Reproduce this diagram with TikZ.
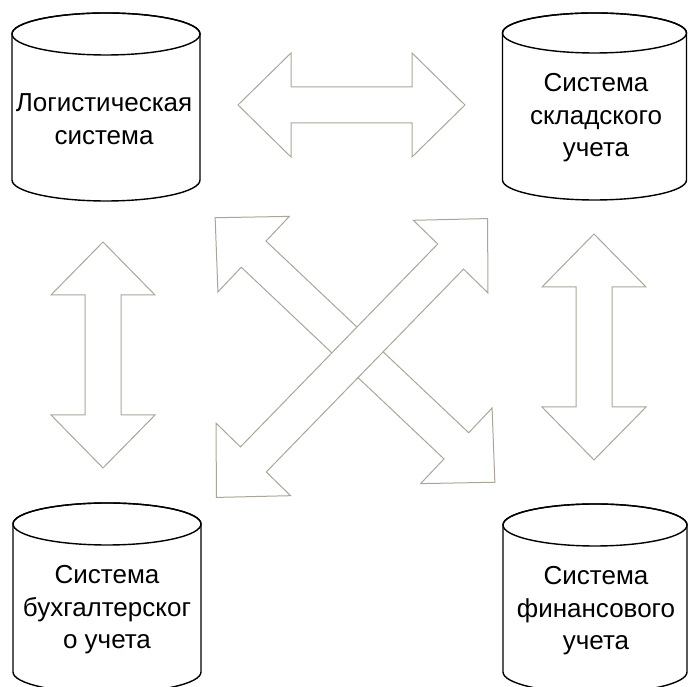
\documentclass[tikz,border=0pt]{standalone}
\usepackage{fontspec}
\setmainfont{Liberation Sans}
\definecolor{arrowgray}{RGB}{172,166,152}
\tikzset{
  cylline/.style={draw=black, line width=1.4pt, fill=white},
  blockarrow/.style={draw=arrowgray, line width=1pt, fill=white, line join=miter},
  label/.style={align=center, font=\fontsize{26}{32.5}\selectfont, inner sep=0pt}
}
% cylinder: #1 cx, #2 top-ellipse centre y, #3 bottom centre y, #4 rx, #5 ry
\newcommand{\mycyl}[5]{%
  \path[cylline] ({#1-#4},#2) -- ({#1-#4},#3)
     arc[start angle=180, end angle=360, x radius=#4pt, y radius=#5pt]
     -- ({#1+#4},#2) arc[start angle=0, end angle=180, x radius=#4pt, y radius=#5pt] -- cycle;
  \draw[line width=1.4pt] (#1,#2) ellipse [x radius=#4pt, y radius=#5pt];
}
% double block arrow: #1 cx, #2 cy, #3 angle, #4 half length
\newcommand{\myarrow}[4]{%
  \begin{scope}[shift={(#1,#2)}, rotate=#3]
    \path[blockarrow] ({-#4},0) -- ({-#4+53},52) -- ({-#4+53},18) -- ({#4-53},18)
      -- ({#4-53},52) -- ({#4},0) -- ({#4-53},-52) -- ({#4-53},-18)
      -- ({-#4+53},-18) -- ({-#4+53},-52) -- cycle;
  \end{scope}
}
\begin{document}
\begin{tikzpicture}[x=1pt,y=1pt]
\useasboundingbox (0,0) rectangle (688,687);
\clip (0,0) rectangle (688,687);
\fill[white] (0,0) rectangle (688,687);

% cylinders
\mycyl{106}{653}{507}{94}{21}
\mycyl{594.5}{654}{507}{92}{20}
\mycyl{107}{163}{15}{94}{21}
\mycyl{595}{162}{15}{92}{21}

\node[label] (logist) at (104,568) {Логистическая\\система};
\node[label] (sklad) at (596,569) {Система\\складского\\учета};
\node[label] (buh) at (107,77) {Система\\бухгалтерског\\о учета};
\node[label] (fin) at (596,76) {Система\\финансового\\учета};

% arrows
\myarrow{351.5}{582}{0}{113.5}
\myarrow{103}{332}{90}{113}
\myarrow{594}{340}{90}{113}
\myarrow{355}{337}{-43.4}{192.5}
\myarrow{352}{329}{45.8}{194.5}
\end{tikzpicture}
\end{document}
